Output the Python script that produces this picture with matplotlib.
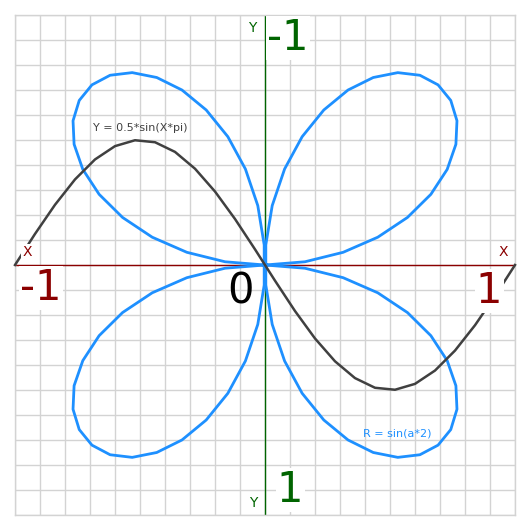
import matplotlib
matplotlib.use("Agg")
import matplotlib.pyplot as plt
import numpy as np

# Curve 1: Y = 0.5*sin(X*pi), sampled points
curve_x = [-1.00, -0.92, -0.84, -0.76, -0.68, -0.60, -0.52, -0.44, -0.36, -0.28, -0.20, -0.12, -0.04,
           0.04, 0.12, 0.20, 0.28, 0.36, 0.44, 0.52, 0.60, 0.68, 0.76, 0.84, 0.92, 1.00]
curve_y = [0.0, -0.1243, -0.2409, -0.3423, -0.4222, -0.4755, -0.4990, -0.4911, -0.4524, -0.3852, -0.2939, -0.1841, -0.0627,
           0.0627, 0.1841, 0.2939, 0.3852, 0.4524, 0.4911, 0.4990, 0.4755, 0.4222, 0.3423, 0.2409, 0.1243, 0.0]

# Curve 2: R = sin(a*2), polar samples (angle a in radians, radius R)
rose_a = [0.0000, 0.0806, 0.1611, 0.2417, 0.3222, 0.4028, 0.4833, 0.5639, 0.6444, 0.7250,
          0.8055, 0.8861, 0.9666, 1.0472, 1.1278, 1.2083, 1.2889, 1.3694, 1.4500, 1.5305,
          1.6111, 1.6916, 1.7722, 1.8527, 1.9333, 2.0138, 2.0944, 2.1750, 2.2555, 2.3361,
          2.4166, 2.4972, 2.5777, 2.6583, 2.7388, 2.8194, 2.8999, 2.9805, 3.0610, 3.1416,
          3.2222, 3.3027, 3.3833, 3.4638, 3.5444, 3.6249, 3.7055, 3.7860, 3.8666, 3.9471,
          4.0277, 4.1083, 4.1888, 4.2694, 4.3499, 4.4305, 4.5110, 4.5916, 4.6721, 4.7527,
          4.8332, 4.9138, 4.9943, 5.0749, 5.1554, 5.2360, 5.3166, 5.3971, 5.4777, 5.5582,
          5.6388, 5.7193, 5.7999, 5.8804, 5.9610, 6.0415, 6.1221, 6.2026, 6.2832]
rose_r = [0.0, 0.1604, 0.3167, 0.4647, 0.6007, 0.7212, 0.8230, 0.9035, 0.9605, 0.9927,
          0.9992, 0.9798, 0.9350, 0.8660, 0.7747, 0.6631, 0.5344, 0.3919, 0.2393, 0.0805,
          -0.0805, -0.2393, -0.3919, -0.5344, -0.6631, -0.7747, -0.8660, -0.9350, -0.9798, -0.9992,
          -0.9927, -0.9605, -0.9035, -0.8230, -0.7212, -0.6007, -0.4647, -0.3167, -0.1604, 0.0,
          0.1604, 0.3167, 0.4647, 0.6007, 0.7212, 0.8230, 0.9035, 0.9605, 0.9927,
          0.9992, 0.9798, 0.9350, 0.8660, 0.7747, 0.6631, 0.5344, 0.3919, 0.2393, 0.0805,
          -0.0805, -0.2393, -0.3919, -0.5344, -0.6631, -0.7747, -0.8660, -0.9350, -0.9798, -0.9992,
          -0.9927, -0.9605, -0.9035, -0.8230, -0.7212, -0.6007, -0.4647, -0.3167, -0.1604, 0.0]

grid_ticks = [-1.0, -0.9, -0.8, -0.7, -0.6, -0.5, -0.4, -0.3, -0.2, -0.1, 0.0,
              0.1, 0.2, 0.3, 0.4, 0.5, 0.6, 0.7, 0.8, 0.9, 1.0]

W = 531
fig = plt.figure(figsize=(W / 100, W / 100), dpi=100)
ax = fig.add_axes([15 / W, 16 / W, 500 / W, 500 / W])
ax.set_xlim(-1, 1)
ax.set_ylim(1, -1)
ax.set_xticks(grid_ticks)
ax.set_yticks(grid_ticks)
ax.tick_params(length=0, labelbottom=False, labelleft=False)
ax.grid(True, color="#d3d3d3", linewidth=1.0)
for s in ax.spines.values():
    s.set_color("#d3d3d3")
    s.set_linewidth(1.0)

ax.axhline(0, color="#8b0000", linewidth=1.0, zorder=2)
ax.axvline(0, color="#006400", linewidth=1.0, zorder=2)

ra = np.array(rose_a)
rr = np.array(rose_r)
ax.plot(rr * np.cos(ra), rr * np.sin(ra), color="#1e90ff", linewidth=2.0, zorder=3, clip_on=False)
ax.plot(curve_x, curve_y, color="#404040", linewidth=1.8, zorder=4, clip_on=False)

bb = dict(facecolor="white", edgecolor="none", pad=1)
red = "#8b0000"
green = "#006400"
ax.text(-0.896, 0.092, "-1", color=red, fontsize=30, ha="center", va="center", bbox=bb, zorder=5)
ax.text(0.896, 0.104, "1", color=red, fontsize=30, ha="center", va="center", bbox=bb, zorder=5)
ax.text(0.092, -0.908, "-1", color=green, fontsize=30, ha="center", va="center", bbox=bb, zorder=5)
ax.text(0.10, 0.90, "1", color=green, fontsize=30, ha="center", va="center", bbox=bb, zorder=5)
ax.text(-0.10, 0.108, "0", color="black", fontsize=30, ha="center", va="center", zorder=5)
ax.text(-0.952, -0.052, "X", color=red, fontsize=10, ha="center", va="center", bbox=bb, zorder=5)
ax.text(0.952, -0.052, "X", color=red, fontsize=10, ha="center", va="center", bbox=bb, zorder=5)
ax.text(-0.052, -0.948, "Y", color=green, fontsize=10, ha="center", va="center", bbox=bb, zorder=5)
ax.text(-0.048, 0.952, "Y", color=green, fontsize=10, ha="center", va="center", bbox=bb, zorder=5)
ax.text(-0.5, -0.548, "Y = 0.5*sin(X*pi)", color="#404040", fontsize=8, ha="center", va="center", zorder=5)
ax.text(0.528, 0.672, "R = sin(a*2)", color="#1e90ff", fontsize=8, ha="center", va="center", zorder=5)

fig.savefig("out.png", dpi=100, facecolor="white")
